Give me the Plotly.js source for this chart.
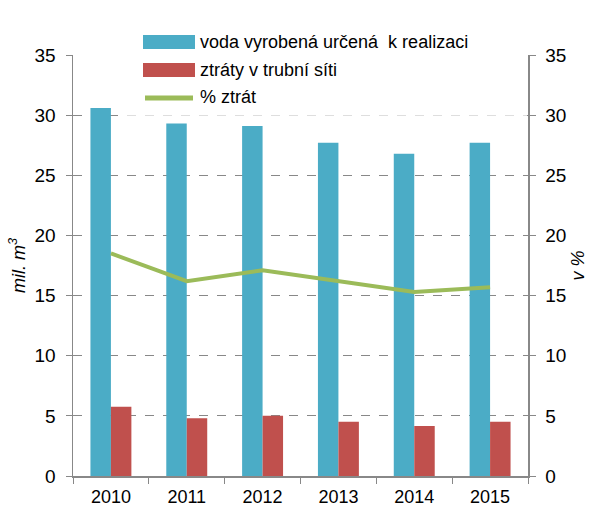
<!DOCTYPE html>
<html>
<head>
<meta charset="utf-8">
<script src="https://cdn.plot.ly/plotly-3.0.1.min.js"></script>
<style>html,body{margin:0;padding:0;background:#fff;}#chart{width:592px;height:509px;}</style>
</head>
<body>
<div id="chart"></div>
<script>
const years = ['2010','2011','2012','2013','2014','2015'];
const vodaRealizace = [30.6, 29.3, 29.1, 27.7, 26.8, 27.7];
const ztratySit = [5.75, 4.8, 5.0, 4.5, 4.15, 4.5];
const procentoZtrat = [18.5, 16.2, 17.1, 16.2, 15.3, 15.7];
const yTicks = [0,5,10,15,20,25,30,35];
const seriesNames = ['voda vyrobená určená  k realizaci', 'ztráty v trubní síti', '% ztrát'];
const seriesColors = ['#4BACC6', '#C0504D', '#9BBB59'];

const font = 'Liberation Sans, Arial, sans-serif';

// plot area in pixels (for the hand-drawn legend)
const L = 73, R = 64, T = 55, B = 33, W = 592, H = 509;
const pw = W - L - R, ph = H - T - B;
const px = v => (v - L) / pw;
const py = v => (H - B - v) / ph;

const data = [
  {type:'bar', name:seriesNames[0], x:years, y:vodaRealizace, marker:{color:seriesColors[0]}, showlegend:false},
  {type:'bar', name:seriesNames[1], x:years, y:ztratySit, marker:{color:seriesColors[1]}, showlegend:false},
  {type:'scatter', mode:'lines', name:seriesNames[2], x:years, y:procentoZtrat, yaxis:'y2',
   line:{color:seriesColors[2], width:4}, showlegend:false}
];

const shapes = [
  // legend background (semi-transparent white)
  {type:'rect', xref:'paper', yref:'paper', x0:px(127), x1:px(527), y0:py(117), y1:py(22),
   fillcolor:'rgba(255,255,255,0.72)', line:{width:0}, layer:'above'},
  {type:'rect', xref:'paper', yref:'paper', x0:px(143), x1:px(195), y0:py(49), y1:py(35),
   fillcolor:seriesColors[0], line:{width:0}, layer:'above'},
  {type:'rect', xref:'paper', yref:'paper', x0:px(143), x1:px(195), y0:py(77), y1:py(63),
   fillcolor:seriesColors[1], line:{width:0}, layer:'above'},
  {type:'line', xref:'paper', yref:'paper', x0:px(145), x1:px(193), y0:py(98), y1:py(98),
   line:{color:seriesColors[2], width:5}, layer:'above'}
];
const annotations = [
  {text:seriesNames[0], y:py(42)},
  {text:seriesNames[1], y:py(70)},
  {text:seriesNames[2], y:py(97)}
].map(a => Object.assign({xref:'paper', yref:'paper', x:px(198), xanchor:'left', yanchor:'middle',
  showarrow:false, font:{size:18, family:font, color:'#000'}}, a));

const layout = {
  width:W, height:H,
  margin:{l:L, r:R, t:T, b:B, autoexpand:false},
  paper_bgcolor:'#fff', plot_bgcolor:'#fff',
  font:{family:font, color:'#000', size:19},
  barmode:'group', bargap:0.46, bargroupgap:0,
  showlegend:false,
  shapes: shapes,
  annotations: annotations,
  xaxis:{type:'category', showline:true, linecolor:'#888', linewidth:1.5, ticks:'outside',
         tickson:'boundaries', ticklen:6, tickcolor:'#888', tickfont:{size:18}, zeroline:false,
         showgrid:false, ticklabelstandoff:4},
  yaxis:{range:[0,35], tickvals:yTicks, ticktext:yTicks.map(String), showline:true, linecolor:'#888',
         linewidth:1.5, ticks:'outside', ticklen:6, tickcolor:'#888', showgrid:true,
         gridcolor:'#888', griddash:'dash', gridwidth:1, zeroline:false, ticklabelstandoff:6,
         title:{text:'mil. m<sup>3</sup>', font:{size:18, style:'italic'}, standoff:4}},
  yaxis2:{range:[0,35], tickvals:yTicks, ticktext:yTicks.map(String), overlaying:'y', side:'right',
          showline:true, linecolor:'#888', linewidth:1.5, ticks:'outside', ticklen:6, tickcolor:'#888',
          showgrid:false, zeroline:false, ticklabelstandoff:6,
          title:{text:'v %', font:{size:18, style:'italic'}, standoff:6}}
};

Plotly.newPlot('chart', data, layout, {displayModeBar:false, staticPlot:true});
</script>
</body>
</html>
